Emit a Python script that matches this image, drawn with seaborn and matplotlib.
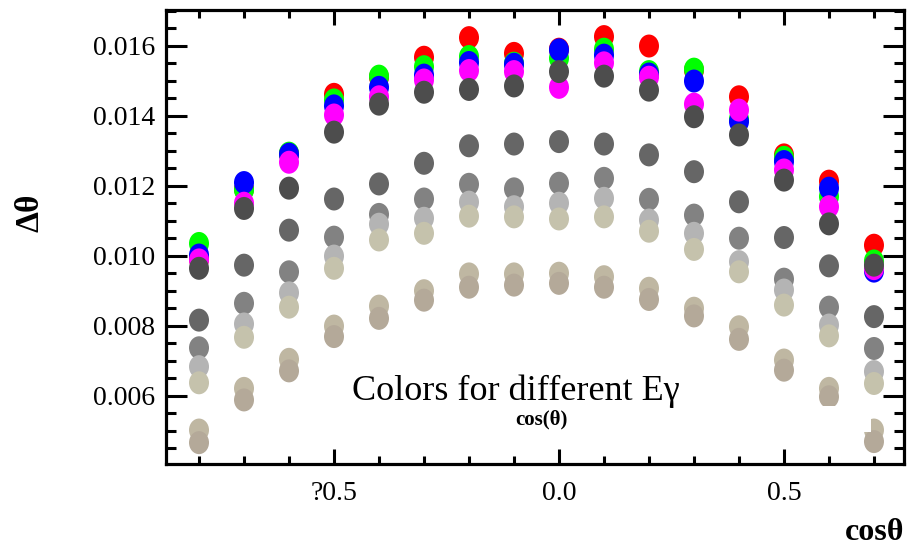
import matplotlib
matplotlib.use("Agg")
import matplotlib.pyplot as plt
import numpy as np
import pandas as pd
import seaborn as sns
from matplotlib.path import Path
from matplotlib.markers import MarkerStyle
from matplotlib.patches import Rectangle
from matplotlib.ticker import FixedLocator, FixedFormatter, MultipleLocator

# cos(theta) bin centres
cos_theta = [-0.8, -0.7, -0.6, -0.5, -0.4, -0.3, -0.2, -0.1,
             0.0, 0.1, 0.2, 0.3, 0.4, 0.5, 0.6, 0.7]

# angular resolution for each photon-energy setting
d_red = [0.00990, 0.01190, 0.01290, 0.01461, 0.01510, 0.01567, 0.01623, 0.01578,
         0.01590, 0.01626, 0.01599, 0.01530, 0.01454, 0.01288, 0.01213, 0.01030]
d_green = [0.01035, 0.01188, 0.01293, 0.01445, 0.01513, 0.01540, 0.01569, 0.01550,
           0.01564, 0.01590, 0.01526, 0.01533, 0.01390, 0.01281, 0.01169, 0.00985]
d_blue = [0.01002, 0.01209, 0.01290, 0.01428, 0.01481, 0.01516, 0.01552, 0.01547,
          0.01588, 0.01573, 0.01519, 0.01499, 0.01383, 0.01269, 0.01193, 0.00956]
d_magenta = [0.00988, 0.01150, 0.01267, 0.01402, 0.01454, 0.01502, 0.01529, 0.01526,
             0.01481, 0.01551, 0.01510, 0.01433, 0.01416, 0.01245, 0.01140, 0.00963]
d_gray1 = [0.00964, 0.01135, 0.01193, 0.01353, 0.01433, 0.01467, 0.01475, 0.01485,
           0.01526, 0.01513, 0.01473, 0.01397, 0.01345, 0.01216, 0.01091, 0.00973]
d_gray2 = [0.00816, 0.00973, 0.01073, 0.01162, 0.01205, 0.01264, 0.01314, 0.01319,
           0.01326, 0.01319, 0.01288, 0.01240, 0.01154, 0.01052, 0.00971, 0.00826]
d_gray3 = [0.00737, 0.00864, 0.00954, 0.01053, 0.01118, 0.01162, 0.01204, 0.01191,
           0.01207, 0.01221, 0.01161, 0.01116, 0.01050, 0.00933, 0.00853, 0.00735]
d_gray4 = [0.00683, 0.00805, 0.00894, 0.00999, 0.01090, 0.01107, 0.01153, 0.01140,
           0.01150, 0.01164, 0.01102, 0.01064, 0.00983, 0.00902, 0.00802, 0.00669]
d_beige = [0.00637, 0.00767, 0.00853, 0.00964, 0.01045, 0.01064, 0.01113, 0.01111,
           0.01105, 0.01111, 0.01070, 0.01018, 0.00954, 0.00859, 0.00771, 0.00635]
d_tan = [0.00502, 0.00621, 0.00704, 0.00799, 0.00856, 0.00900, 0.00948, 0.00948,
         0.00950, 0.00940, 0.00907, 0.00850, 0.00797, 0.00702, 0.00621, 0.00502]
d_taupe = [0.00466, 0.00588, 0.00671, 0.00769, 0.00821, 0.00873, 0.00910, 0.00916,
           0.00921, 0.00910, 0.00875, 0.00828, 0.00761, 0.00673, 0.00597, 0.00469]

series_names = ["E1", "E2", "E3", "E4", "E5", "E6", "E7", "E8", "E9", "E10", "E11"]
series_values = [d_red, d_green, d_blue, d_magenta, d_gray1, d_gray2, d_gray3,
                 d_gray4, d_beige, d_tan, d_taupe]
series_colors = ["#ff0000", "#00ff00", "#0000ff", "#ff00ff", "#4d4d4d", "#666666",
                 "#828282", "#b4b4b4", "#c5c2ac", "#bfb7a2", "#b4a999"]

y_ticks = [0.006, 0.008, 0.010, 0.012, 0.014, 0.016]
y_tick_labels = ["0.006", "0.008", "0.010", "0.012", "0.014", "0.016"]
x_ticks = [-0.5, 0.0, 0.5]
x_tick_labels = ["?0.5", "0.0", "0.5"]

frames = []
for name, vals in zip(series_names, series_values):
    frames.append(pd.DataFrame({"cos": cos_theta, "dtheta": vals, "series": name}))
df = pd.concat(frames, ignore_index=True)

sns.set_style("ticks")
plt.rcParams["font.family"] = ["Liberation Serif", "DejaVu Serif"]
plt.rcParams["text.color"] = "black"
plt.rcParams["axes.labelcolor"] = "black"
plt.rcParams["xtick.color"] = "black"
plt.rcParams["ytick.color"] = "black"
plt.rcParams["xtick.labelcolor"] = "black"
plt.rcParams["ytick.labelcolor"] = "black"

fig = plt.figure(figsize=(9.1, 5.48), dpi=100)
ax = fig.add_axes([0.1819, 0.1533, 0.8115, 0.8285])

# slightly tall elliptical dot
circ = Path.unit_circle()
ellipse = Path(circ.vertices * np.array([0.87, 1.0]), circ.codes)

sns.scatterplot(data=df, x="cos", y="dtheta", hue="series",
                palette=dict(zip(series_names, series_colors)),
                marker=MarkerStyle(ellipse), s=274, linewidth=0,
                edgecolor="none", legend=False, ax=ax, zorder=2)

ax.set_xlim(-0.8744, 0.7667)
ax.set_ylim(0.00405, 0.01702)

ax.xaxis.set_major_locator(FixedLocator(x_ticks))
ax.xaxis.set_major_formatter(FixedFormatter(x_tick_labels))
ax.xaxis.set_minor_locator(MultipleLocator(0.1))
ax.yaxis.set_major_locator(FixedLocator(y_ticks))
ax.yaxis.set_major_formatter(FixedFormatter(y_tick_labels))
ax.yaxis.set_minor_locator(MultipleLocator(0.0005))

for sp in ax.spines.values():
    sp.set_linewidth(2.3)
    sp.set_color("black")

ax.tick_params(which="both", direction="in", top=True, right=True,
               width=2.2, color="black", labelcolor="black")
ax.tick_params(axis="x", which="major", length=11, pad=12, labelsize=20)
ax.tick_params(axis="x", which="minor", length=6)
ax.tick_params(axis="y", which="major", length=15, pad=7.5, labelsize=20)
ax.tick_params(axis="y", which="minor", length=7.5)

ax.set_xlabel("cosθ", fontsize=23, fontweight="bold", ha="right", va="center",
              color="black")
ax.xaxis.set_label_coords(1.0, -0.150)
ax.set_ylabel("Δθ", fontsize=24, fontweight="bold", va="center", color="black")
ax.yaxis.set_label_coords(-0.1835, 0.553)

# white title box for the energy legend
ax.add_patch(Rectangle((0.1307, 0.0705), 0.8246, 0.0573, transform=ax.transAxes,
                       facecolor="white", edgecolor="none", zorder=3))
ax.text(0.2525, 0.141, "Colors for different Eγ", transform=ax.transAxes,
        fontsize=26, ha="left", va="baseline", zorder=5, color="black")
ax.text(0.5085, 0.097, "cos(θ)", transform=ax.transAxes, fontsize=15,
        fontweight="bold", ha="center", va="center", zorder=5, color="black")

fig.savefig("out.png", dpi=100)
